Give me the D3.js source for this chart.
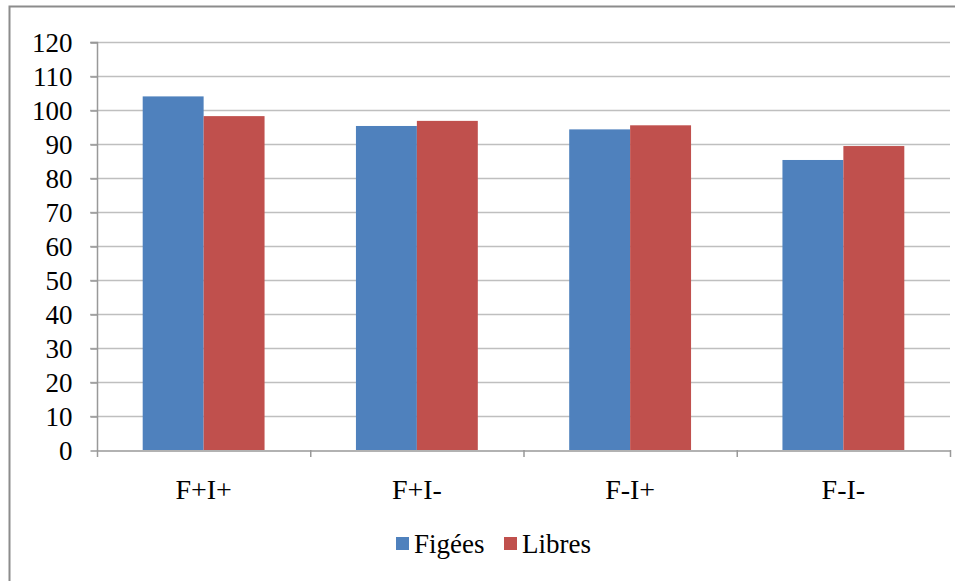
<!DOCTYPE html>
<html><head><meta charset="utf-8">
<script src="https://cdn.jsdelivr.net/npm/d3@7"></script>
<style>body{margin:0;background:#fff;} svg{display:block;}</style>
</head><body>
<svg id="chart" width="955" height="581"></svg>
<script>
const categories = ["F+I+", "F+I-", "F-I+", "F-I-"];
const seriesNames = ["Figées", "Libres"];
const figees = [104, 95.3, 94.3, 85.3];
const libres = [98.2, 96.8, 95.5, 89.4];
const yTicks = [0, 10, 20, 30, 40, 50, 60, 70, 80, 90, 100, 110, 120];
const colors = ["#4F81BD", "#C0504D"];

const svg = d3.select("#chart");
const font = "'Liberation Serif', 'Times New Roman', serif";

// outer border
svg.append("path").attr("d", "M9.5,581 V6.5 H955").attr("fill", "none").attr("stroke", "#8c8c8c").attr("stroke-width", 2);

const m = {left: 97, right: 950, top: 42, bottom: 450};
const x = d3.scaleBand().domain(categories).range([m.left, m.right]).paddingInner(0).paddingOuter(0);
const xs = d3.scaleBand().domain(seriesNames).range([0, x.bandwidth()]).paddingInner(0).paddingOuter(0.75);
const y = d3.scaleLinear().domain([0, 120]).range([m.bottom, m.top]);

// gridlines
svg.append("g").selectAll("line").data(yTicks.filter(d => d > 0)).join("line")
  .attr("x1", m.left - 7).attr("x2", m.right)
  .attr("y1", d => y(d) + 0.5).attr("y2", d => y(d) + 0.5)
  .attr("stroke", "#bfbfbf").attr("stroke-width", 1.5);

// bars
const data = categories.map((c, i) => ({c, vals: [figees[i], libres[i]]}));
const g = svg.append("g");
data.forEach(d => {
  d.vals.forEach((v, j) => {
    g.append("rect")
      .attr("x", x(d.c) + xs(seriesNames[j]))
      .attr("y", y(v))
      .attr("width", xs.bandwidth())
      .attr("height", y(0) - y(v))
      .attr("fill", colors[j]);
  });
});

// y axis
const yAxis = d3.axisLeft(y).tickValues(yTicks).tickSize(7).tickPadding(18);
const ya = svg.append("g").attr("transform", `translate(${m.left + 0.5},0.5)`).call(yAxis);
ya.attr("font-family", font);
ya.select(".domain").attr("stroke", "#999").attr("stroke-width", 1.5).attr("d", `M-7,${m.top}H0V${m.bottom}`);
ya.selectAll(".tick line").attr("stroke", "#999").attr("stroke-width", 1.5);
ya.selectAll("text").attr("font-size", 27).attr("fill", "#000");

// x axis
const xAxis = d3.axisBottom(x).tickSize(0).tickPadding(29);
const xa = svg.append("g").attr("transform", `translate(0,${m.bottom + 0.5})`).call(xAxis);
xa.attr("font-family", font);
xa.select(".domain").attr("stroke", "#999").attr("stroke-width", 1.5);
xa.selectAll("text").attr("font-size", 28).attr("fill", "#000");
// category boundary ticks
svg.append("g").selectAll("line").data(categories.concat(["__end"])).join("line")
  .attr("x1", (d, i) => (i < categories.length ? x(d) : m.right) + 0.5)
  .attr("x2", (d, i) => (i < categories.length ? x(d) : m.right) + 0.5)
  .attr("y1", m.bottom).attr("y2", m.bottom + 7)
  .attr("stroke", "#999").attr("stroke-width", 1.5);

// legend
const legend = svg.append("g").attr("transform", "translate(396,537)");
const items = [{n: seriesNames[0], c: colors[0], x: 0}, {n: seriesNames[1], c: colors[1], x: 108}];
items.forEach(it => {
  legend.append("rect").attr("x", it.x).attr("y", 0).attr("width", 13).attr("height", 13).attr("fill", it.c);
  legend.append("text").attr("x", it.x + 18).attr("y", 16).attr("font-family", font).attr("font-size", 27).attr("fill", "#000").text(it.n);
});
</script>
</body></html>
